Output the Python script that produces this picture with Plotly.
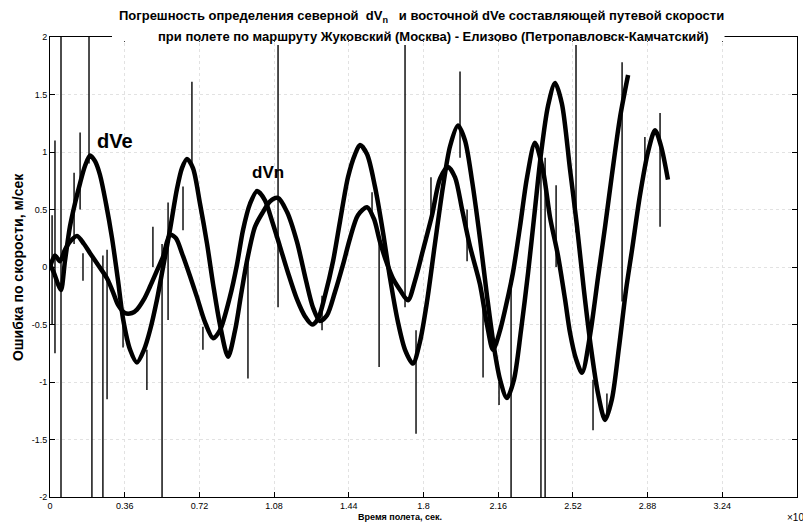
import plotly.graph_objects as go

# ---- data (time in units of 1e4 s, error in m/s) ----
t_dve = [0.000, 0.019, 0.039, 0.053, 0.072, 0.096, 0.120, 0.145, 0.169, 0.193, 0.217, 0.241,
         0.270, 0.299, 0.328, 0.352, 0.386, 0.419, 0.453, 0.482, 0.516, 0.545, 0.578, 0.612,
         0.636, 0.660, 0.689, 0.723, 0.757, 0.786, 0.819, 0.858, 0.892, 0.920, 0.949, 0.988,
         1.027, 1.060, 1.099, 1.142, 1.190, 1.234, 1.267, 1.301, 1.335, 1.373, 1.412, 1.446,
         1.484, 1.528, 1.561, 1.590, 1.624, 1.653, 1.687, 1.725, 1.759, 1.798, 1.841, 1.880,
         1.918, 1.952, 1.986, 2.024, 2.072, 2.106, 2.135, 2.169, 2.202, 2.231, 2.265, 2.299,
         2.337, 2.376, 2.410, 2.448, 2.482, 2.506, 2.535, 2.564, 2.602, 2.641, 2.675, 2.708,
         2.747, 2.786]
v_dve = [0.02, -0.05, -0.15, -0.20, 0.05, 0.35, 0.55, 0.73, 0.88, 0.97, 0.92, 0.80,
         0.55, 0.25, -0.12, -0.45, -0.72, -0.83, -0.72, -0.55, -0.28, 0.00, 0.32, 0.68,
         0.86, 0.94, 0.86, 0.55, 0.20, -0.15, -0.50, -0.78, -0.55, -0.25, 0.05, 0.35,
         0.48, 0.57, 0.60, 0.48, 0.22, -0.12, -0.35, -0.47, -0.42, -0.22, 0.02, 0.25,
         0.45, 0.52, 0.42, 0.22, 0.03, -0.10, -0.20, -0.29, -0.12, 0.15, 0.45, 0.77,
         0.87, 0.78, 0.50, 0.18, -0.15, -0.50, -0.72, -0.55, -0.30, -0.05, 0.35, 0.78,
         1.08, 0.84, 0.43, 0.10, -0.28, -0.57, -0.80, -0.92, -0.60, -0.09, 0.35, 0.80,
         1.30, 1.67]

t_dvn = [0.000, 0.024, 0.048, 0.072, 0.096, 0.130, 0.164, 0.193, 0.231, 0.275, 0.304, 0.328,
         0.361, 0.395, 0.419, 0.453, 0.482, 0.516, 0.545, 0.578, 0.607, 0.636, 0.675, 0.708,
         0.747, 0.786, 0.819, 0.867, 0.901, 0.930, 0.964, 0.998, 1.036, 1.070, 1.108, 1.147,
         1.190, 1.229, 1.263, 1.292, 1.325, 1.364, 1.398, 1.436, 1.470, 1.494, 1.528, 1.566,
         1.605, 1.639, 1.677, 1.711, 1.749, 1.783, 1.817, 1.855, 1.894, 1.928, 1.966, 2.000,
         2.034, 2.072, 2.106, 2.140, 2.169, 2.202, 2.236, 2.270, 2.304, 2.337, 2.366, 2.400,
         2.434, 2.467, 2.506, 2.540, 2.573, 2.607, 2.641, 2.675, 2.708, 2.742, 2.776, 2.805,
         2.843, 2.882, 2.916, 2.945, 2.978]
v_dvn = [0.00, 0.10, 0.05, 0.15, 0.22, 0.27, 0.20, 0.12, 0.02, -0.10, -0.22, -0.33,
         -0.40, -0.40, -0.37, -0.28, -0.17, -0.03, 0.09, 0.28, 0.25, 0.12, -0.08, -0.26,
         -0.48, -0.62, -0.55, -0.26, 0.02, 0.32, 0.55, 0.66, 0.58, 0.40, 0.18, -0.05,
         -0.28, -0.43, -0.50, -0.45, -0.25, 0.05, 0.40, 0.78, 0.98, 1.06, 0.98, 0.70,
         0.30, -0.10, -0.48, -0.72, -0.84, -0.65, -0.30, 0.20, 0.70, 1.05, 1.23, 1.10,
         0.75, 0.25, -0.25, -0.70, -0.98, -1.14, -0.98, -0.55, -0.05, 0.50, 0.98, 1.40,
         1.60, 1.42, 0.85, 0.35, -0.20, -0.70, -1.10, -1.33, -1.15, -0.70, -0.20, 0.15,
         0.62, 1.00, 1.19, 1.05, 0.76]

# impulse outliers: time, upper value, lower value
spike_t = [0.010, 0.024, 0.053, 0.116, 0.145, 0.159, 0.188, 0.202, 0.255, 0.275,
           0.352, 0.467, 0.496, 0.540, 0.569, 0.641, 0.684, 0.737, 0.954, 1.099,
           1.311, 1.552, 1.586, 1.711, 1.764, 1.836, 1.976, 2.010, 2.087, 2.164,
           2.222, 2.366, 2.386, 2.439, 2.535, 2.617, 2.684, 2.757, 2.867, 2.940]
spike_hi = [0.45, 1.10, 2.00, 0.82, 1.17, 0.12, 2.00, 0.10, 0.10, 0.15,
            -0.40, -0.72, 0.35, 0.20, 0.56, 0.70, 1.61, -0.52, 0.10, 1.93,
            -0.25, 0.65, 0.30, 1.93, -0.55, 0.78, 1.70, 0.50, -0.29, -1.00,
            -0.10, 1.00, 0.95, 0.71, 1.93, -0.98, -1.10, 1.78, 1.13, 1.34]
spike_lo = [-0.50, -0.75, -2.00, 0.20, 0.50, -0.12, 0.90, -2.00, -2.00, -1.15,
            -0.70, -1.07, 0.00, -2.00, -0.46, 0.32, 0.85, -0.72, -0.97, -0.35,
            -0.55, 0.43, -0.87, -0.35, -1.45, 0.43, 0.95, 0.05, -0.96, -1.20,
            -2.00, -2.00, -2.00, 0.00, 0.30, -1.42, -1.30, -0.30, 0.90, 0.35]

x_ticks = [0, 0.36, 0.72, 1.08, 1.44, 1.8, 2.16, 2.52, 2.88, 3.24, 3.6]
x_labels = ["0", "0.36", "0.72", "1.08", "1.44", "1.8", "2.16", "2.52", "2.88", "3.24", "3.6"]
y_ticks = [-2, -1.5, -1, -0.5, 0, 0.5, 1, 1.5, 2]
y_labels = ["-2", "-1.5", "-1", "-0.5", "0", "0.5", "1", "1.5", "2"]

# ---- figure ----
sx, sy = [], []
for t, a, b in zip(spike_t, spike_hi, spike_lo):
    sx += [t, t, None]
    sy += [a, b, None]

fig = go.Figure()
fig.add_trace(go.Scatter(x=sx, y=sy, mode="lines", line=dict(color="black", width=1.4),
                         hoverinfo="skip", showlegend=False))
fig.add_trace(go.Scatter(x=t_dve, y=v_dve, mode="lines", name="dVe",
                         line=dict(color="black", width=4.5, shape="spline", smoothing=0.8),
                         showlegend=False))
fig.add_trace(go.Scatter(x=t_dvn, y=v_dvn, mode="lines", name="dVn",
                         line=dict(color="black", width=4.5, shape="spline", smoothing=0.8),
                         showlegend=False))

axis_common = dict(showline=True, linecolor="black", linewidth=1, mirror="ticks",
                   ticks="inside", ticklen=5, tickcolor="black",
                   showgrid=True, gridcolor="#e2e2e2", griddash="dot", gridwidth=1,
                   zeroline=False, tickfont=dict(family="Liberation Sans, Arial", size=9, color="black"))

fig.update_xaxes(range=[0, 3.6], tickvals=x_ticks, ticktext=x_labels, **axis_common)
fig.update_yaxes(range=[-2, 2], tickvals=y_ticks, ticktext=y_labels, **axis_common)

title_font = dict(family="Liberation Sans Narrow, Arial Narrow, Liberation Sans", size=13)
lbl_font = "Liberation Sans, Arial"

fig.update_layout(
    width=803, height=524,
    margin=dict(l=50, r=6, t=37, b=27),
    paper_bgcolor="white", plot_bgcolor="white",
    font=dict(family=lbl_font, color="black"),
    shapes=[dict(type="rect", xref="paper", yref="paper", x0=0.083, x1=0.903,
                 y0=0.991, y1=1.02, fillcolor="white", line=dict(width=0), layer="above")],
    annotations=[
        dict(text="<b>Погрешность определения северной  dV<sub>n</sub>   и восточной dVe составляющей путевой скорости</b>",
             xref="paper", yref="paper", x=0.497, y=1.0435, xanchor="center", yanchor="middle",
             showarrow=False, font=title_font),
        dict(text="<b>при полете по маршруту Жуковский (Москва) - Елизово (Петропавловск-Камчатский)</b>",
             xref="paper", yref="paper", x=0.514, y=1.002, xanchor="center", yanchor="middle",
             showarrow=False, font=title_font),
        dict(text="<b>dVe</b>", x=0.313, y=1.10, xanchor="center", yanchor="middle", showarrow=False,
             font=dict(family=lbl_font, size=20)),
        dict(text="<b>dVn</b>", x=1.05, y=0.82, xanchor="center", yanchor="middle", showarrow=False,
             font=dict(family=lbl_font, size=17)),
        dict(text="<b>Ошибка по скорости, м/сек</b>", xref="paper", yref="paper",
             x=-0.0428, y=0.5, xanchor="center", yanchor="middle", textangle=-90, showarrow=False,
             font=dict(family=lbl_font, size=14)),
        dict(text="<b>Время полета, сек.</b>", xref="paper", yref="paper",
             x=0.4685, y=-0.0435, xanchor="center", yanchor="middle", showarrow=False,
             font=dict(family=lbl_font, size=9)),
        dict(text="×10<sup>4</sup>", xref="paper", yref="paper", xanchor="left", yanchor="middle",
             x=0.984, y=-0.0435, showarrow=False,
             font=dict(family=lbl_font, size=10)),
    ],
)

fig.write_html("out.html")
